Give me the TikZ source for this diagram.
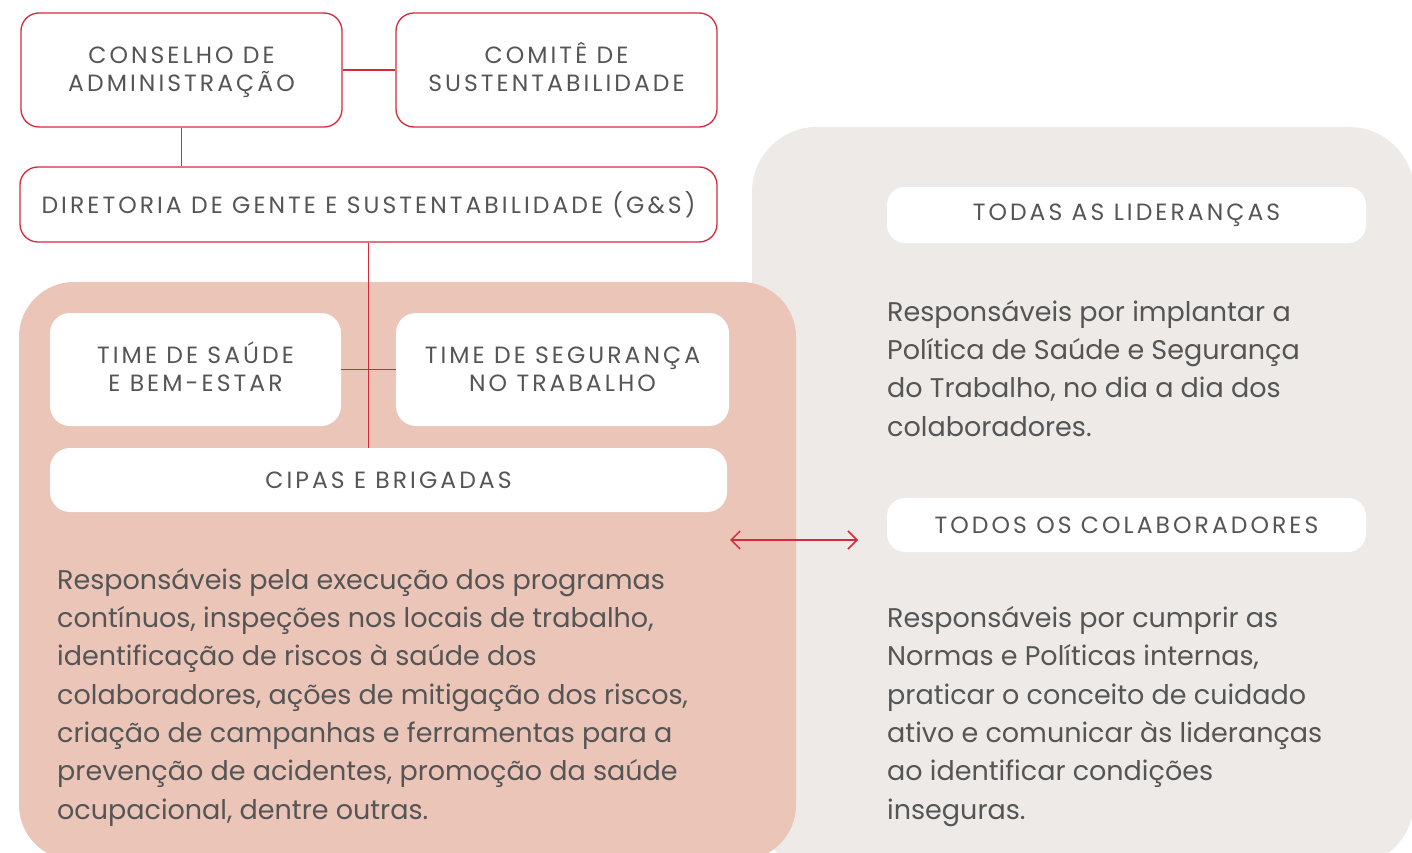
\documentclass[tikz,border=0pt]{standalone}
\usepackage{fontspec}
\setmainfont{Poppins}
\newfontfamily\capsfont[LetterSpace=13]{Poppins}
\usetikzlibrary{arrows.meta,positioning}

\definecolor{linered}{HTML}{D42A3C}
\definecolor{txtgray}{HTML}{555555}
\definecolor{panelpink}{HTML}{EAC5B8}
\definecolor{panelgray}{HTML}{EEEAE7}

\tikzset{
  orgbox/.style={draw=linered, line width=1.3pt, rounded corners=18pt, fill=white,
    text=txtgray, align=center, inner sep=0pt,
    font=\capsfont\fontsize{23.5}{28.5}\selectfont},
  teambox/.style={fill=white, rounded corners=20pt, text=txtgray, align=center,
    inner sep=0pt, font=\capsfont\fontsize{23.5}{28.5}\selectfont},
  bodytext/.style={text=txtgray, align=left, inner sep=0pt, anchor=base west,
    font=\fontsize{27}{38.3}\selectfont},
  link/.style={linered, line width=1.5pt},
}

\begin{document}
\begin{tikzpicture}[x=1pt, y=-1pt]
  \clip (0,0) rectangle (1412,853);
  \fill[white] (0,0) rectangle (1412,853);

  % panels
  \fill[panelgray, rounded corners=65pt] (752,127) rectangle (1414,866);
  \fill[panelpink, rounded corners=55pt] (19,282) rectangle (796,860);

  % top of the chart
  \node[orgbox, minimum width=321, minimum height=114] (conselho) at (181.5,70)
    {CONSELHO DE\vphantom{Ê}\\ADMINISTRAÇÃO};
  \node[orgbox, minimum width=321, minimum height=114] (comite) at (556.5,70)
    {COMITÊ DE\\SUSTENTABILIDADE\vphantom{Ç}};
  \node[orgbox, minimum width=697, minimum height=75] (diretoria) at (368.5,204.5)
    {DIRETORIA DE GENTE E SUSTENTABILIDADE (G\&S)};

  % teams
  \node[teambox, minimum width=291, minimum height=113] (saude) at (195.5,369.5)
    {TIME DE SAÚDE\\E BEM-ESTAR\vphantom{Ç}};
  \node[teambox, minimum width=333, minimum height=113] (seguranca) at (562.5,369.5)
    {TIME DE SEGURANÇA\vphantom{Ú}\\NO TRABALHO\vphantom{Ç}};
  \node[teambox, minimum width=677, minimum height=64] (cipas) at (388.5,480)
    {CIPAS E BRIGADAS};

  % right side
  \node[teambox, rounded corners=18pt, minimum width=479, minimum height=56] (liderancas) at (1126.5,215)
    {TODAS AS LIDERANÇAS};
  \node[teambox, rounded corners=18pt, minimum width=479, minimum height=54] (colaboradores) at (1126.5,525)
    {TODOS OS COLABORADORES};

  \draw[link] (conselho.east) -- (comite.west);
  \draw[link] (conselho.south) -- (conselho.south |- diretoria.north);
  \draw[link] (diretoria.south) -- (diretoria.south |- cipas.north);
  \draw[link] (saude.east) -- (seguranca.west);

  \coordinate (arrL) at (730,540);
  \coordinate (arrR) at (858,540);
  \draw[link, {Straight Barb[length=9pt,width=18pt]}-{Straight Barb[length=9pt,width=18pt]}] (arrL) -- (arrR);

  % texts (base = last line)
  \node[bodytext] (txtequipes) at (57,819)
    {Responsáveis pela execução dos programas\\
     contínuos, inspeções nos locais de trabalho,\\
     identificação de riscos à saúde dos\\
     colaboradores, ações de mitigação dos riscos,\\
     criação de campanhas e ferramentas para a\\
     prevenção de acidentes, promoção da saúde\\
     ocupacional, dentre outras.};
  \node[bodytext] (txtliderancas) at (887,436)
    {Responsáveis por implantar a\\
     Política de Saúde e Segurança\\
     do Trabalho, no dia a dia dos\\
     colaboradores.};
  \node[bodytext] (txtcolab) at (887,819)
    {Responsáveis por cumprir as\\
     Normas e Políticas internas,\\
     praticar o conceito de cuidado\\
     ativo e comunicar às lideranças\\
     ao identificar condições\\
     inseguras.};
\end{tikzpicture}
\end{document}
